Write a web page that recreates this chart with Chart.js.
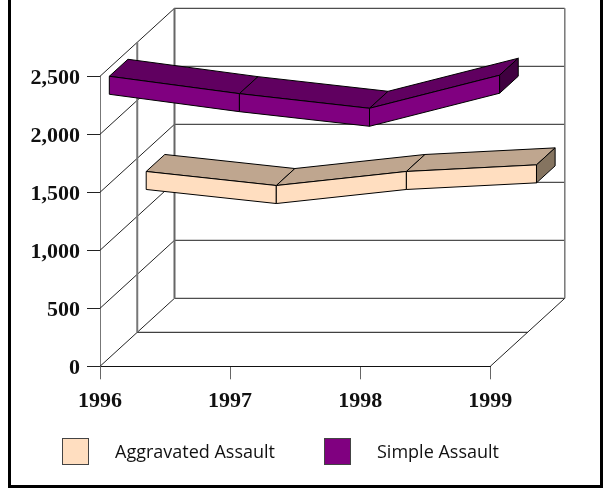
<!DOCTYPE html>
<html>
<head>
<meta charset="utf-8">
<title>Assault chart</title>
<script src="https://cdn.jsdelivr.net/npm/chart.js@4"></script>
<style>
    html, body { margin: 0; padding: 0; background: #fff; }
    #wrap { position: relative; width: 613px; height: 489px; overflow: hidden; }
    #frame { position: absolute; left: 8px; top: -5px; width: 589px; height: 487px; border: 3px solid #000; }
    canvas { position: absolute; left: 0; top: 0; }
    .key { position: absolute; top: 438px; width: 25px; height: 25px; border: 1px solid #444; }
    .key-label { position: absolute; top: 438px; font: 18px "Open Sans", sans-serif; line-height: 26px; color: #111; }
</style>
</head>
<body>
<div id="wrap">
    <div id="frame"></div>
    <canvas id="chart" width="613" height="489"></canvas>
    <div class="key" style="left:62px;background:#ffdec0"></div>
    <div class="key-label" style="left:115px">Aggravated Assault</div>
    <div class="key" style="left:324px;background:#800080"></div>
    <div class="key-label" style="left:377px">Simple Assault</div>
</div>
<script>
(function () {
    'use strict';

    var years = ['1996', '1997', '1998', '1999'];
    var aggravated = [1316, 1195, 1316, 1373];
    var simple = [2427, 2277, 2151, 2436];
    var yTicks = [0, 500, 1000, 1500, 2000, 2500];

    // depth of the box in px, and where each ribbon sits in it (0 = front, 1 = back)
    var DX = 74.5, DY = -68;
    var RIBBON_H = 18;

    function line(ctx, x1, y1, x2, y2, color, w) {
        ctx.beginPath();
        ctx.moveTo(x1, y1);
        ctx.lineTo(x2, y2);
        ctx.strokeStyle = color;
        ctx.lineWidth = w;
        ctx.stroke();
    }

    function quad(ctx, pts, fill) {
        ctx.beginPath();
        ctx.moveTo(pts[0][0], pts[0][1]);
        for (var i = 1; i < pts.length; i++) ctx.lineTo(pts[i][0], pts[i][1]);
        ctx.closePath();
        ctx.fillStyle = fill;
        ctx.fill();
        ctx.strokeStyle = '#000';
        ctx.lineWidth = 1;
        ctx.stroke();
    }

    var box3d = {
        id: 'box3d',
        beforeDatasetsDraw: function (chart) {
            var ctx = chart.ctx, xs = chart.scales.x, ys = chart.scales.y;
            var left = xs.getPixelForValue(0), right = xs.getPixelForValue(years.length - 1);
            var top = ys.getPixelForValue(yTicks[yTicks.length - 1]), bottom = ys.getPixelForValue(0);
            ctx.save();
            // left wall diagonals + back wall lines
            yTicks.forEach(function (t) {
                var y = ys.getPixelForValue(t);
                line(ctx, left, y, left + DX, y + DY, '#222', 1);
                line(ctx, left + DX, y + DY, right + DX, y + DY, '#222', 1);
            });
            // floor
            line(ctx, right, bottom, right + DX, bottom + DY, '#222', 1);
            line(ctx, left + DX / 2, bottom + DY / 2, right + DX / 2, bottom + DY / 2, '#111', 1);
            // uprights
            line(ctx, left + DX / 2, top + DY / 2, left + DX / 2, bottom + DY / 2, '#777', 2);
            line(ctx, left + DX, top + DY, left + DX, bottom + DY, '#666', 2);
            line(ctx, right + DX, top + DY, right + DX, bottom + DY, '#777', 1.5);
            ctx.restore();
        },
        afterDatasetsDraw: function (chart) {
            var ctx = chart.ctx, xs = chart.scales.x, ys = chart.scales.y;
            ctx.save();
            // far ribbon first
            [0, 1].forEach(function (di) {
                var ds = chart.data.datasets[di];
                var fx = DX * ds.depthFront, fy = DY * ds.depthFront;
                var w = DX * 0.25, h = DY * 0.25;
                var pts = ds.data.map(function (v, i) {
                    return [xs.getPixelForValue(i) + fx, ys.getPixelForValue(v) + fy];
                });
                for (var i = 0; i < pts.length - 1; i++) {
                    var a = pts[i], b = pts[i + 1];
                    quad(ctx, [a, b, [b[0] + w, b[1] + h], [a[0] + w, a[1] + h]], ds.topColor);
                    quad(ctx, [a, b, [b[0], b[1] + RIBBON_H], [a[0], a[1] + RIBBON_H]], ds.faceColor);
                }
                var e = pts[pts.length - 1];
                quad(ctx, [e, [e[0] + w, e[1] + h], [e[0] + w, e[1] + h + RIBBON_H], [e[0], e[1] + RIBBON_H]], ds.endColor);
            });
            ctx.restore();
        }
    };

    new Chart(document.getElementById('chart'), {
        type: 'line',
        data: {
            labels: years,
            datasets: [
                { label: 'Aggravated Assault', data: aggravated, showLine: false, pointRadius: 0,
                  faceColor: '#ffdec0', topColor: '#bfa68f', endColor: '#857460', depthFront: 0.62 },
                { label: 'Simple Assault', data: simple, showLine: false, pointRadius: 0,
                  faceColor: '#800080', topColor: '#600060', endColor: '#400040', depthFront: 0.125 }
            ]
        },
        options: {
            responsive: false,
            animation: false,
            layout: { padding: { left: 0, top: 76.3, right: 122.7, bottom: 0 } },
            plugins: { legend: { display: false }, tooltip: { enabled: false } },
            scales: {
                x: {
                    offset: false,
                    grid: { drawOnChartArea: false, tickLength: 13, color: '#666', tickWidth: 1 },
                    border: { color: '#111', width: 1 },
                    ticks: { color: '#111', padding: 9, maxRotation: 0, autoSkip: false,
                             font: { family: '"Liberation Serif"', weight: 'bold', size: 22 } },
                    afterFit: function (s) { s.height = 122.7; }
                },
                y: {
                    min: 0, max: 2500,
                    grid: { drawOnChartArea: false, tickLength: 13, color: '#222', tickWidth: 1 },
                    border: { color: '#777', width: 1 },
                    ticks: { stepSize: 500, color: '#111', padding: 7,
                             font: { family: '"Liberation Serif"', weight: 'bold', size: 22, lineHeight: '5px' },
                             // blank first line nudges the label a little below its tick, as in the original
                             callback: function (v) { return ['', v.toLocaleString('en-US')]; } },
                    afterFit: function (s) { s.width = 100; }
                }
            }
        },
        plugins: [box3d]
    });
})();
</script>
</body>
</html>
